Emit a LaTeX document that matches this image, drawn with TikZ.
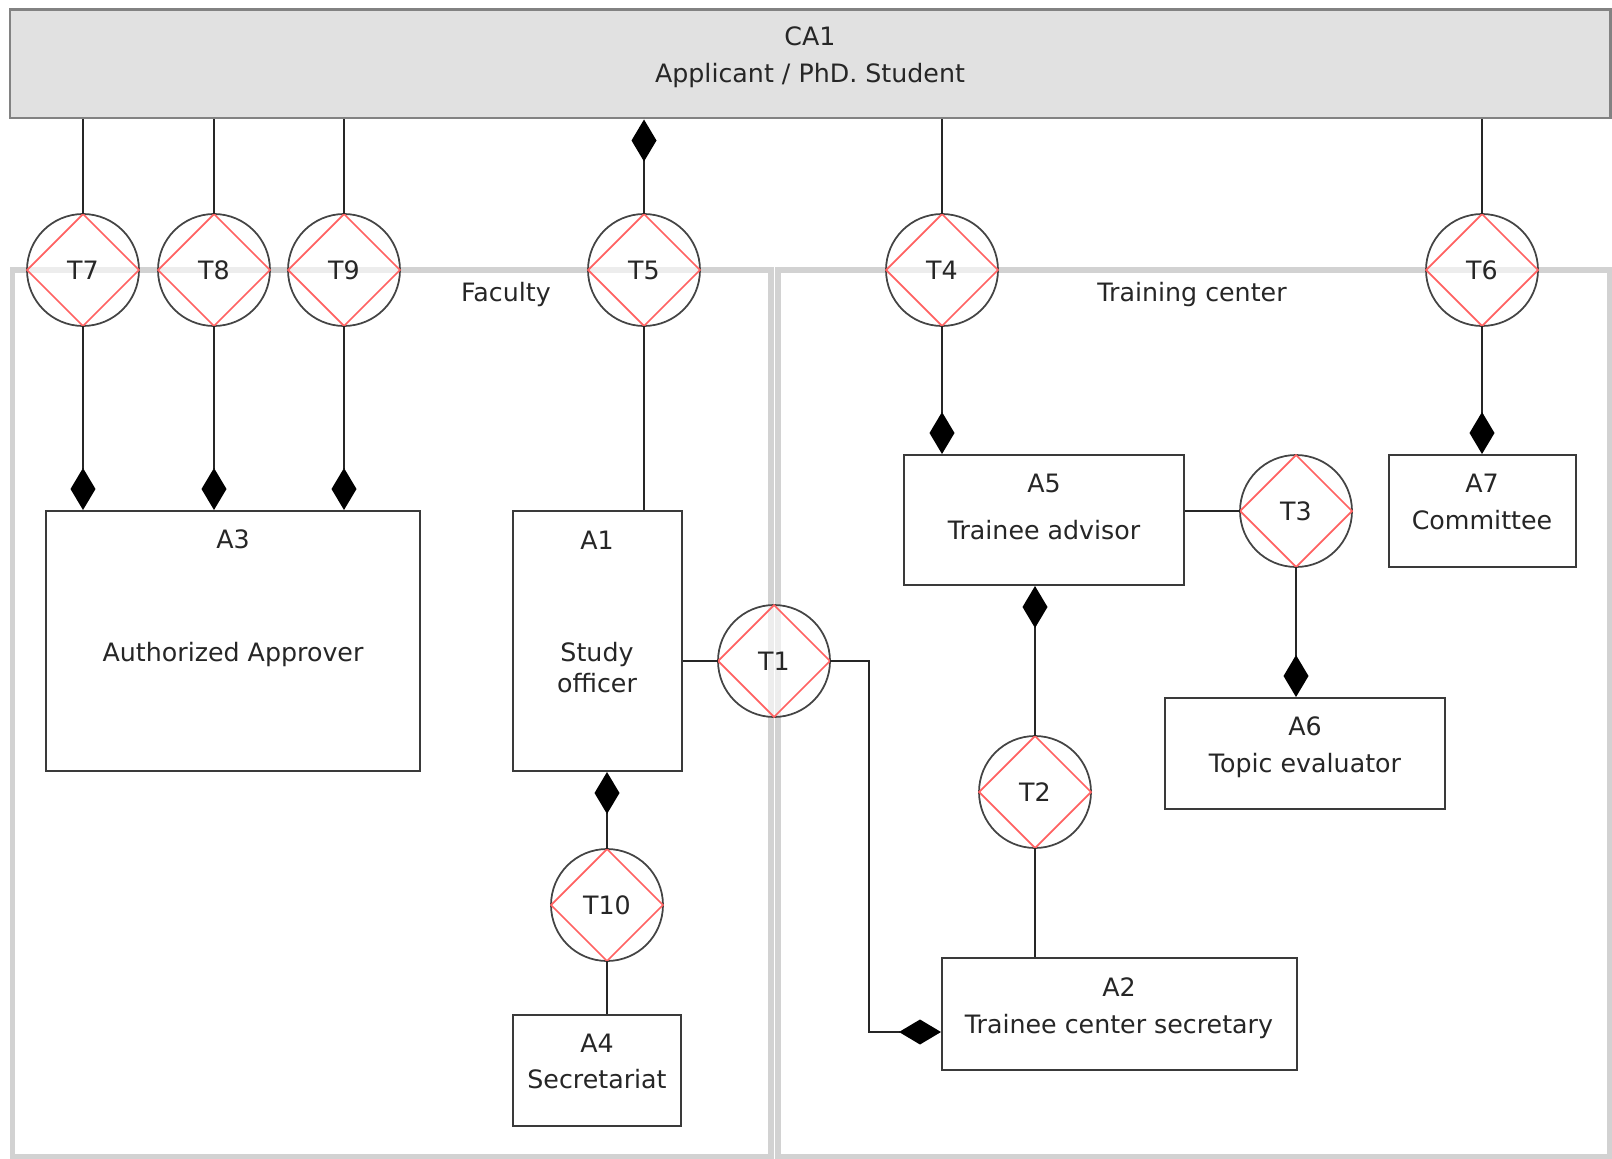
\documentclass[tikz,border=0pt]{standalone}
\usepackage{fontspec}
\setmainfont{DejaVu Sans}
\usetikzlibrary{arrows.meta,fit,calc}
\definecolor{LaneGray}{HTML}{D2D2D2}
\definecolor{RoleFill}{HTML}{E1E1E1}
\definecolor{RoleEdge}{HTML}{828282}
\definecolor{BoxEdge}{HTML}{3A3A3A}
\definecolor{RingEdge}{HTML}{444444}
\definecolor{RhombRed}{HTML}{FF6262}
\definecolor{Ink}{HTML}{262626}
\tikzset{
  lane/.style={draw=LaneGray,line width=0.12cm,inner sep=0pt},
  role/.style={draw=RoleEdge,line width=0.06cm,fill=RoleFill,inner sep=0pt},
  actor/.style={draw=BoxEdge,line width=0.04cm,fill=white,inner sep=0pt},
  trans/.style={circle,draw=RingEdge,line width=0.035cm,fill=white,fill opacity=.6,
                text opacity=1,text=Ink,minimum size=2.24cm,inner sep=0pt,outer sep=0pt,
                font=\fontsize{14.4}{17}\selectfont},
  rhomb/.style={RhombRed,line width=0.035cm},
  tie/.style={draw=black!85,line width=0.03cm},
  own/.style={tie,-{Diamond[length=0.84cm,width=0.5cm,black]}},
  txt/.style={text=Ink,anchor=base,inner sep=0pt,font=\fontsize{14.4}{17}\selectfont,align=center},
}

\begin{document}
\begin{tikzpicture}[x=0.02cm,y=-0.02cm]
  \useasboundingbox (0,0) rectangle (1612,1159);

  % swimlanes
  \node[lane,fit={(12.5,270) (771,1157)}] (faculty) {};
  \node[lane,fit={(778,270) (1610,1157)}] (training) {};
  \node[txt] (facultylbl) at (506,301) {Faculty};
  \node[txt] (traininglbl) at (1192,301) {Training center};

  % composite actor
  \node[role,fit={(10,10) (1610,118)}] (ca1) {};
  \node[txt] (ca1id) at (810,46) {CA1};
  \node[txt] (ca1name) at (810,83) {Applicant / PhD. Student};

  % actors
  \node[actor,fit={(46,511) (420,771)}] (a3) {};
  \node[txt] (a3id) at (233,548) {A3};
  \node[txt] (a3name) at (233,661) {Authorized Approver};
  \node[actor,fit={(513,511) (682,771)}] (a1) {};
  \node[txt] (a1id) at (597,549) {A1};
  \node[txt] (a1name1) at (597,661) {Study};
  \node[txt] (a1name2) at (597,692) {officer};
  \node[actor,fit={(513,1015) (681,1126)}] (a4) {};
  \node[txt] (a4id) at (597,1052) {A4};
  \node[txt] (a4name) at (597,1088) {Secretariat};
  \node[actor,fit={(904,455) (1184,585)}] (a5) {};
  \node[txt] (a5id) at (1044,492) {A5};
  \node[txt] (a5name) at (1044,539) {Trainee advisor};
  \node[actor,fit={(1389,455) (1576,567)}] (a7) {};
  \node[txt] (a7id) at (1482,492) {A7};
  \node[txt] (a7name) at (1482,529) {Committee};
  \node[actor,fit={(1165,698) (1445,809)}] (a6) {};
  \node[txt] (a6id) at (1305,735) {A6};
  \node[txt] (a6name) at (1305,772) {Topic evaluator};
  \node[actor,fit={(942,958) (1297,1070)}] (a2) {};
  \node[txt] (a2id) at (1119,996) {A2};
  \node[txt] (a2name) at (1119,1033) {Trainee center secretary};

  % transactions
  \node[trans] (t7) at (83,270) {T7};
  \node[trans] (t8) at (214,270) {T8};
  \node[trans] (t9) at (344,270) {T9};
  \node[trans] (t5) at (644,270) {T5};
  \node[trans] (t4) at (942,270) {T4};
  \node[trans] (t6) at (1482,270) {T6};
  \node[trans] (t3) at (1296,511) {T3};
  \node[trans] (t1) at (774,661) {T1};
  \node[trans] (t2) at (1035,792) {T2};
  \node[trans] (t10) at (607,905) {T10};
  \foreach \i in {1,...,10}
    \draw[rhomb] (t\i.north) -- (t\i.east) -- (t\i.south) -- (t\i.west) -- cycle;

  % initiator / executor links
  \foreach \t in {t7,t8,t9} {
    \draw[tie] (\t) -- (\t |- ca1.south);
    \draw[own] (\t) -- (\t |- a3.north);
  }
  \draw[own] (t5) -- (t5 |- ca1.south);
  \draw[tie] (t5) -- (t5 |- a1.north);
  \draw[tie] (t4) -- (t4 |- ca1.south);
  \draw[own] (t4) -- (t4 |- a5.north);
  \draw[tie] (t6) -- (t6 |- ca1.south);
  \draw[own] (t6) -- (t6 |- a7.north);
  \draw[tie] (t3) -- (t3 -| a5.east);
  \draw[own] (t3) -- (t3 |- a6.north);
  \draw[own] (t2) -- (t2 |- a5.south);
  \draw[tie] (t2) -- (t2 |- a2.north);
  \draw[tie] (t1) -- (t1 -| a1.east);
  \draw[own] (t1.east) -- ++(39,0) |- ([yshift=-0.36cm]a2.west);
  \draw[own] (t10) -- (t10 |- a1.south);
  \draw[tie] (t10) -- (t10 |- a4.north);
\end{tikzpicture}
\end{document}
